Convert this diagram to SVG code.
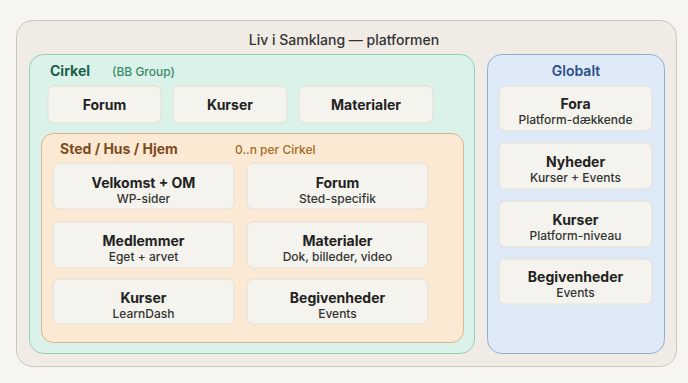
<svg xmlns="http://www.w3.org/2000/svg" width="688" height="383" viewBox="0 0 688 383">
<style>
.card{fill:#f4f3ed;stroke:#e2dfd5;stroke-width:1}
.t{font-family:Inter,"Noto Sans",sans-serif;font-weight:700;font-size:14px;fill:#222;text-anchor:middle}
.s{font-family:Inter,"Noto Sans",sans-serif;font-weight:500;font-size:12px;fill:#333;text-anchor:middle}
.lab{font-family:Inter,"Noto Sans",sans-serif}
</style>
<rect width="688" height="383" fill="#f6f5f2"/>
<g id="platform">
<rect x="16.5" y="20.5" width="660" height="346" rx="16" fill="#f0ebe4" stroke="#cbc6be"/>
<text class="lab" x="344" y="45" text-anchor="middle" font-size="14" font-weight="500" fill="#333">Liv i Samklang — platformen</text>
</g>
<g id="cirkel">
<rect x="29.5" y="54.5" width="445" height="299" rx="14" fill="#daf2ea" stroke="#93cbb3"/>
<text class="lab" x="50" y="76" font-size="14" font-weight="700" fill="#1f5e48">Cirkel</text>
<text class="lab" x="112" y="76" font-size="12" font-weight="500" fill="#3b8a68">(BB Group)</text>
</g>
<g id="c-forum"><rect class="card" x="48" y="86" width="113" height="37" rx="6"/><text class="t" x="104.5" y="109.5">Forum</text></g>
<g id="c-kurser"><rect class="card" x="173" y="86" width="114" height="37" rx="6"/><text class="t" x="230" y="109.5">Kurser</text></g>
<g id="c-materialer"><rect class="card" x="299" y="86" width="134" height="37" rx="6"/><text class="t" x="366" y="109.5">Materialer</text></g>
<g id="sted">
<rect x="41.5" y="133.5" width="422" height="209" rx="12" fill="#fce9d4" stroke="#dab68c"/>
<text class="lab" x="60" y="154" font-size="14" font-weight="700" fill="#7a4d1f">Sted / Hus / Hjem</text>
<text class="lab" x="235" y="154" font-size="12" font-weight="500" fill="#a36b28">0..n per Cirkel</text>
</g>
<g id="s-velkomst"><rect class="card" x="53" y="163" width="181" height="46" rx="6"/><text class="t" x="143.5" y="188">Velkomst + OM</text><text class="s" x="143.5" y="203">WP-sider</text></g>
<g id="s-forum"><rect class="card" x="247" y="163" width="181" height="46" rx="6"/><text class="t" x="337.5" y="188">Forum</text><text class="s" x="337.5" y="203">Sted-specifik</text></g>
<g id="s-medlemmer"><rect class="card" x="53" y="222" width="181" height="46" rx="6"/><text class="t" x="143.5" y="246">Medlemmer</text><text class="s" x="143.5" y="261">Eget + arvet</text></g>
<g id="s-materialer"><rect class="card" x="247" y="222" width="181" height="46" rx="6"/><text class="t" x="337.5" y="246">Materialer</text><text class="s" x="337.5" y="261">Dok, billeder, video</text></g>
<g id="s-kurser"><rect class="card" x="53" y="279" width="181" height="45" rx="6"/><text class="t" x="143.5" y="303">Kurser</text><text class="s" x="143.5" y="318">LearnDash</text></g>
<g id="s-begivenheder"><rect class="card" x="247" y="279" width="181" height="45" rx="6"/><text class="t" x="337.5" y="303">Begivenheder</text><text class="s" x="337.5" y="318">Events</text></g>
<g id="globalt">
<rect x="487.5" y="54.5" width="177" height="299" rx="14" fill="#dfeaf8" stroke="#8fafd6"/>
<text class="lab" x="576" y="76" text-anchor="middle" font-size="14" font-weight="600" fill="#2b4f8a">Globalt</text>
</g>
<g id="g-fora"><rect class="card" x="499" y="86" width="153" height="45" rx="6"/><text class="t" x="575.5" y="109">Fora</text><text class="s" x="575.5" y="124">Platform-dækkende</text></g>
<g id="g-nyheder"><rect class="card" x="499" y="143" width="153" height="46" rx="6"/><text class="t" x="575.5" y="167">Nyheder</text><text class="s" x="575.5" y="182">Kurser + Events</text></g>
<g id="g-kurser"><rect class="card" x="499" y="201" width="153" height="46" rx="6"/><text class="t" x="575.5" y="225">Kurser</text><text class="s" x="575.5" y="240">Platform-niveau</text></g>
<g id="g-begivenheder"><rect class="card" x="499" y="259" width="153" height="45" rx="6"/><text class="t" x="575.5" y="282">Begivenheder</text><text class="s" x="575.5" y="297">Events</text></g>
<g id="connectors"/>
</svg>
